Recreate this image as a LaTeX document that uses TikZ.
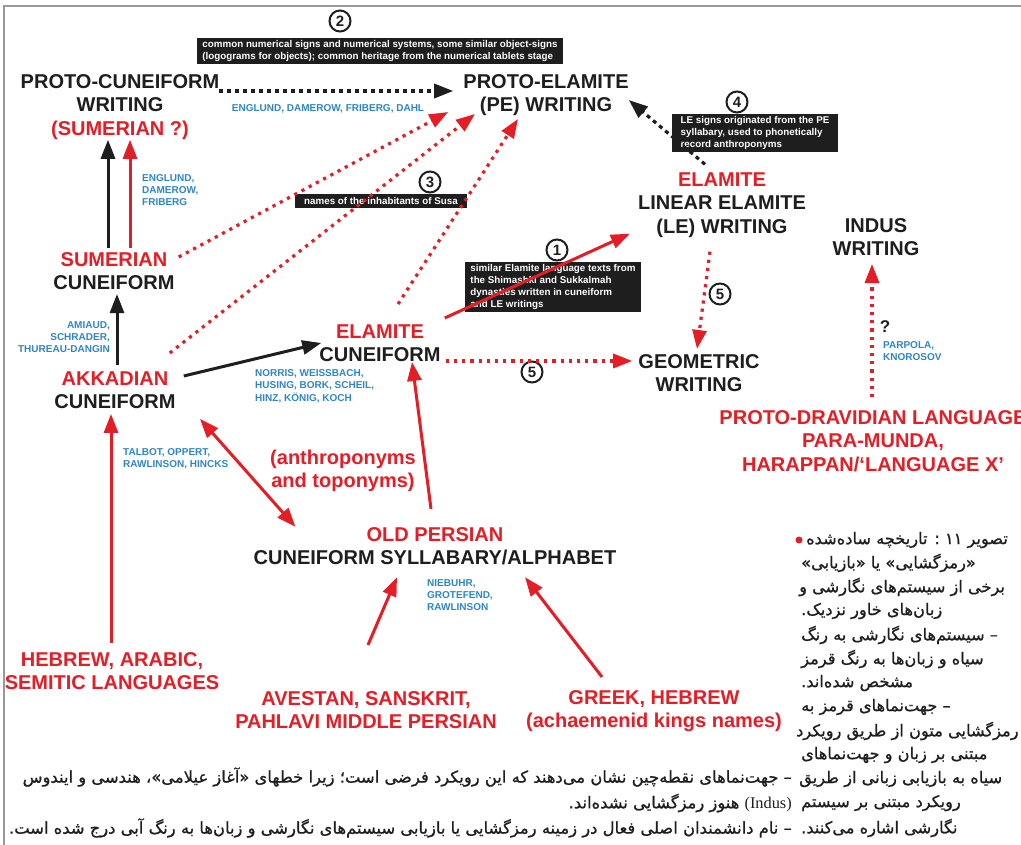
\documentclass[tikz,border=0pt]{standalone}
\usepackage{fontspec}
\setmainfont{Liberation Sans}
\newfontfamily\fa[Script=Arabic, FakeBold=0.8]{DejaVu Sans}
\newfontfamily\lser{Liberation Serif}
\TeXXeTstate=1
\usetikzlibrary{arrows.meta,calc}
\definecolor{dred}{HTML}{E41E26}
\definecolor{dblue}{HTML}{2F86C6}
\definecolor{dblk}{HTML}{1E1E1E}
\newcommand\zw{^^^^200c}
\begin{document}
\begin{tikzpicture}[x=1pt,y=-1pt,
  lab/.style={font=\fontsize{20}{23.5}\selectfont\bfseries, align=center, inner sep=0pt, text=dblk},
  nm/.style={font=\fontsize{10}{12.3}\selectfont\bfseries, text=dblue, inner sep=0pt},
  bbox/.style={fill=dblk, text=white, font=\fontsize{9.8}{12.3}\selectfont\bfseries, inner xsep=5pt, inner ysep=2pt, align=left},
  num/.style={circle, draw=dblk, line width=2pt, minimum size=21pt, inner sep=0pt, font=\fontsize{15}{15}\selectfont\bfseries, text=dblk},
  tip/.style={-{Triangle[length=19pt,width=14pt]}},
  rarr/.style={draw=dred, line width=3pt, tip},
  karr/.style={draw=dblk, line width=3pt, tip},
  rdot/.style={draw=dred, line width=3.2pt, dash pattern=on 3.2pt off 5pt, tip},
  kdot/.style={draw=dblk, line width=3.2pt, dash pattern=on 4pt off 4pt, tip},
  fa/.style={font=\fa\fontsize{16.35}{16.35}\selectfont, inner sep=0pt, text=dblk},
  far/.style={font=\fa\fontsize{16.2}{16.2}\selectfont, inner sep=0pt, text=dblk, anchor=west}
]
\useasboundingbox (0,0) rectangle (1021,845);
\fill[white] (0,0) rectangle (1021,845);
\draw[gray!80, line width=1.5pt] (1021,6) -- (4,6) -- (4,845);

% main nodes
\node[lab] (pcw) at (120,107) {PROTO-CUNEIFORM\\WRITING\\\textcolor{dred}{(SUMERIAN ?)}};
\node[lab] (pe) at (546,95) {PROTO-ELAMITE\\(PE) WRITING};
\node[lab] (sum) at (114,271) {\textcolor{dred}{SUMERIAN}\\CUNEIFORM};
\node[lab] (akk) at (115,390) {\textcolor{dred}{AKKADIAN}\\CUNEIFORM};
\node[lab] (elc) at (380,343) {\textcolor{dred}{ELAMITE}\\CUNEIFORM};
\node[lab] (le) at (722,205) {\textcolor{dred}{ELAMITE}\\LINEAR ELAMITE\\(LE) WRITING};
\node[lab] (geo) at (699,373) {GEOMETRIC\\WRITING};
\node[lab] (ind) at (876,237) {INDUS\\WRITING};
\node[lab, text=dred] (dra) at (873,441) {PROTO-DRAVIDIAN LANGUAGE\\PARA-MUNDA,\\HARAPPAN/‘LANGUAGE X’};
\node[lab, text=dred] (ant) at (343,471) {(anthroponyms\\and toponyms)};
\node[lab] (op) at (435,546) {\textcolor{dred}{OLD PERSIAN}\\CUNEIFORM SYLLABARY/ALPHABET};
\node[lab, text=dred] (heb) at (112,671) {HEBREW, ARABIC,\\SEMITIC LANGUAGES};
\node[lab, text=dred] (ave) at (366,710) {AVESTAN, SANSKRIT,\\PAHLAVI MIDDLE PERSIAN};
\node[lab, text=dred] (grk) at (654,711) {GREEK, HEBREW\\(achaemenid kings names)};

% scholar names
\node[nm] (n1) at (328,109) {ENGLUND, DAMEROW, FRIBERG, DAHL};
\node[nm, anchor=west, align=left] (n2) at (142,190) {ENGLUND,\\DAMEROW,\\FRIBERG};
\node[nm, anchor=east, align=right] (n3) at (110,337) {AMIAUD,\\SCHRADER,\\THUREAU-DANGIN};
\node[nm, anchor=west, align=left] (n4) at (255,386) {NORRIS, WEISSBACH,\\HUSING, BORK, SCHEIL,\\HINZ, KÖNIG, KOCH};
\node[nm, anchor=west, align=left] (n5) at (123,459) {TALBOT, OPPERT,\\RAWLINSON, HINCKS};
\node[nm, anchor=west, align=left] (n6) at (427,595) {NIEBUHR,\\GROTEFEND,\\RAWLINSON};
\node[nm, anchor=west, align=left] (n7) at (883,351) {PARPOLA,\\KNOROSOV};
\node[font=\fontsize{17}{17}\selectfont\bfseries, text=dblk, inner sep=0pt] (q) at (885,327) {?};

% black boxes
\node[bbox] (t2) at (380,51) {common numerical signs and numerical systems, some similar object-signs\\(logograms for objects); common heritage from the numerical tablets stage};
\node[bbox, inner xsep=9pt, inner ysep=3pt] (t3) at (381,201) {names of the inhabitants of Susa};
\node[bbox] (t1) at (553,287) {similar Elamite language texts from\\the Shimashki and Sukkalmah\\dynasties written in cuneiform\\and LE writings};
\node[bbox, inner xsep=9pt] (t4) at (755,133) {LE signs originated from the PE\\syllabary, used to phonetically\\record anthroponyms};

% circled numbers
\node[num] (c1) at (557,250) {1};
\node[num] (c2) at (340,21) {2};
\node[num] (c3) at (430,182) {3};
\node[num] (c4) at (737,102) {4};
\node[num] (c5a) at (720,294) {5};
\node[num] (c5b) at (532,372) {5};

% connectors
\draw[kdot] ([yshift=16pt]pcw.east) -- ([xshift=-10pt,yshift=4pt]pe.west);
\draw[karr] ([xshift=-6pt,yshift=4pt]sum.north) -- ([xshift=-12pt]pcw.south);
\draw[rarr] ([xshift=16pt,yshift=4pt]sum.north) -- ([xshift=10pt]pcw.south);
\draw[rdot] ([xshift=4pt,yshift=14pt]sum.east) -- ([xshift=-15pt,yshift=4pt]pe.south west);
\draw[karr] ([xshift=2pt,yshift=6pt]akk.north) -- ([xshift=3pt,yshift=-4pt]sum.south);
\draw[rdot] ([xshift=-6pt,yshift=37pt]akk.east) -- ([xshift=-71pt,yshift=2pt]pe.south);
\draw[rdot] ([xshift=18pt,yshift=20pt]elc.north) -- ([xshift=-28pt,yshift=-3pt]pe.south);
\draw[karr] ([xshift=8pt,yshift=14pt]akk.east) -- ([xshift=2pt]elc.west);
\draw[rarr] ([xshift=4pt,yshift=25pt]elc.east) -- ([xshift=-8pt,yshift=4pt]le.south west);
\draw[kdot] ([xshift=-17pt,yshift=8pt]le.north) -- ([yshift=-5pt]pe.east);
\draw[rdot] ([xshift=-12pt,yshift=-14pt]le.south) -- ([xshift=-2pt,yshift=5pt]geo.north);
\draw[rdot] ([xshift=5pt,yshift=-18pt]elc.east) -- ([xshift=-6pt,yshift=12pt]geo.west);
\draw[rdot] ([xshift=-1pt,yshift=13pt]dra.north) -- ([xshift=-4pt,yshift=-8pt]ind.south);
\draw[draw=dred, line width=3pt, {Triangle[length=19pt,width=14pt]}-{Triangle[length=19pt,width=14pt]}] ([xshift=85pt,yshift=-10pt]akk.south) -- ([xshift=42pt]op.north west);
\draw[rarr] ([xshift=-4pt,yshift=18pt]op.north) -- ([xshift=32pt]elc.south);
\draw[rarr] ([xshift=-1pt,yshift=9pt]heb.north) -- ([xshift=-4pt,yshift=-5pt]akk.south);
\draw[rarr] ([xshift=2pt,yshift=46pt]ave.north) -- ([xshift=-38pt,yshift=-12pt]op.south);
\draw[rarr] ([xshift=-52pt,yshift=13pt]grk.north) -- ([xshift=90pt,yshift=-12pt]op.south);

% right caption
\fill[dred] (799,540) circle (3.5pt);
\node[far] (r1) at (806,540) {\beginR تصویر ۱۱ : تاریخچه ساده\zw شده\endR};
\node[far] (r2) at (801,563) {\beginR «رمزگشایی» یا «بازیابی»\endR};
\node[far] (r3) at (799,587) {\beginR برخی از سیستم\zw های نگارشی و\endR};
\node[far] (r4) at (801,611) {\beginR زبان\zw های خاور نزدیک.\endR};
\node[far] (r5) at (801,635) {\beginR – سیستم\zw های نگارشی به رنگ\endR};
\node[far] (r6) at (801,659) {\beginR سیاه و زبان\zw ها به رنگ قرمز\endR};
\node[far] (r7) at (801,683) {\beginR مشخص شده\zw اند.\endR};
\node[far] (r8) at (801,707) {\beginR – جهت\zw نماهای قرمز به\endR};
\node[far] (r9) at (796,731) {\beginR رمزگشایی متون از طریق رویکرد\endR};
\node[far] (r10) at (801,755) {\beginR مبتنی بر زبان و جهت\zw نماهای\endR};
\node[far] (r11) at (799,779) {\beginR سیاه به بازیابی زبانی از طریق\endR};
\node[far] (r12) at (801,803) {\beginR رویکرد مبتنی بر سیستم\endR};
\node[far] (r13) at (801,828) {\beginR نگارشی اشاره می\zw کنند.\endR};

% bottom caption
\node[fa, anchor=east] (b1) at (792,777) {\beginR – جهت\zw نماهای نقطه\zw چین نشان می\zw دهند که این رویکرد فرضی است؛ زیرا خطهای «آغاز عیلامی»، هندسی و ایندوس\endR};
\node[fa, anchor=east] (b2) at (792,803) {\beginR \beginL{\lser (Indus)}\endL{} هنوز رمزگشایی نشده\zw اند.\endR};
\node[fa, anchor=east] (b3) at (792,828) {\beginR – نام دانشمندان اصلی فعال در زمینه رمزگشایی یا بازیابی سیستم\zw های نگارشی و زبان\zw ها به رنگ آبی درج شده است.\endR};
\end{tikzpicture}
\end{document}
